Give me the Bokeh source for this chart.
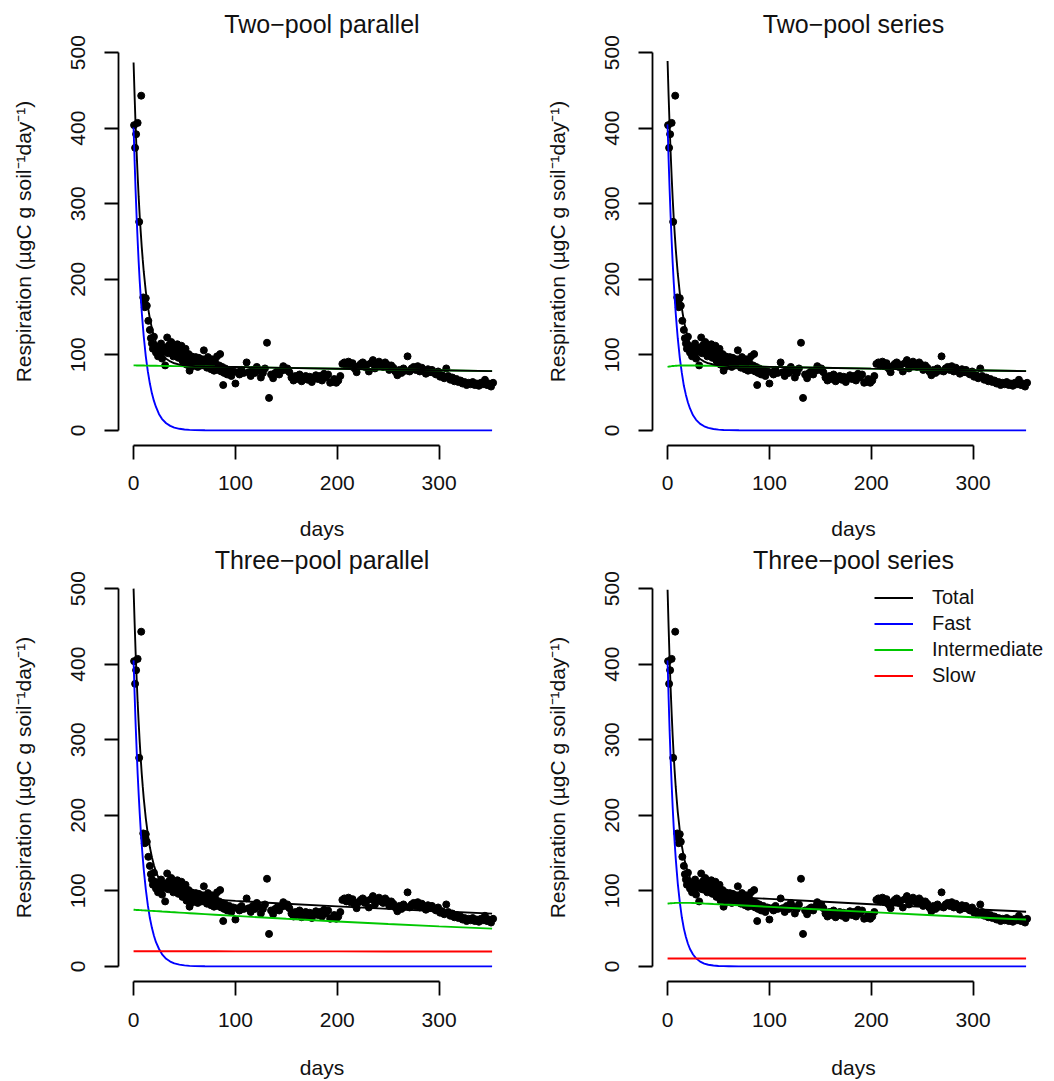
from bokeh.plotting import figure
from bokeh.models import FixedTicker, Legend, LegendItem
from bokeh.layouts import row, column
from bokeh.embed import file_html
from bokeh.resources import INLINE

FONT = "Liberation Sans"

# ---- observed respiration (same data in all four panels) ----
obs_days = [0.5, 1.5, 2.5, 4, 5.5, 7.5, 9.5, 10.5, 11, 12,
            13, 14.5, 16, 17, 18, 19, 20, 21, 22, 23,
            24, 25, 26, 27, 28, 29, 30, 31, 32, 33,
            34, 35, 36, 37, 38, 39, 40, 41, 42, 43,
            44, 45, 46, 47, 48, 49, 50, 51, 52, 53,
            54, 55, 56, 57, 58, 59, 60, 61, 62, 63,
            64, 65, 66, 67, 68, 69, 70, 71, 72, 73,
            74, 75, 76, 77, 78, 79, 80, 81, 82, 83,
            84, 85, 86, 87, 88, 89, 90, 92, 94, 96,
            98, 100, 102, 104, 106, 108, 111, 113, 115, 117,
            119, 121, 123, 125, 127, 129, 131, 133, 135, 137,
            139, 141, 143, 145, 147, 149, 151, 153, 155, 157,
            159, 161, 163, 165, 167, 169, 171, 173, 175, 177,
            179, 181, 183, 185, 187, 189, 191, 193, 195, 197,
            199, 201, 203, 205, 207, 209, 211, 213, 215, 217,
            219, 221, 223, 225, 227, 229, 231, 233, 235, 237,
            239, 241, 243, 245, 247, 249, 251, 253, 255, 257,
            259, 261, 263, 265, 267, 269, 271, 273, 275, 277,
            279, 281, 283, 285, 287, 289, 291, 293, 295, 297,
            299, 301, 303, 305, 307, 309, 311, 313, 315, 317,
            319, 321, 323, 325, 327, 329, 331, 333, 335, 337,
            339, 341, 343, 345, 347, 349, 351, 353]
obs_resp = [404, 374, 392, 407, 276, 443, 176, 170, 163, 175,
            165, 145, 133, 122, 115, 108, 124, 112, 103, 110,
            98, 107, 100, 115, 95, 108, 104, 86, 110, 123,
            102, 113, 106, 117, 110, 98, 112, 103, 108, 114,
            96, 110, 104, 112, 92, 100, 96, 108, 87, 94,
            101, 79, 90, 98, 85, 93, 88, 97, 90, 84,
            96, 89, 92, 86, 94, 106, 88, 92, 83, 97,
            86, 90, 81, 94, 87, 79, 91, 84, 98, 80,
            86, 101, 78, 84, 60, 76, 82, 74, 80, 72,
            78, 62, 77, 74, 80, 76, 90, 77, 72, 80,
            76, 84, 79, 70, 76, 82, 116, 43, 74, 69,
            76, 78, 74, 79, 85, 80, 82, 77, 70, 66,
            72, 68, 74, 65, 70, 72, 67, 71, 64, 69,
            73, 68, 72, 66, 75, 70, 74, 63, 64, 68,
            63, 66, 72, 88, 90, 86, 91, 85, 89, 82,
            77, 85, 88, 90, 84, 87, 78, 89, 93, 82,
            88, 91, 86, 84, 90, 87, 80, 86, 83, 78,
            73, 80, 76, 82, 79, 98, 78, 82, 84, 80,
            85, 78, 83, 79, 75, 81, 77, 80, 76, 74,
            78, 71, 73, 69, 82, 72, 67, 70, 65, 68,
            64, 66, 62, 64, 60, 63, 61, 64, 60, 62,
            59, 63, 61, 67, 60, 62, 58, 63]

# ---- fitted curves ----
curve_days = [0, 1, 2, 3, 4, 5, 6, 7, 8, 9, 10,
              12, 14, 16, 18, 20, 22,
              25, 28, 32, 36, 40, 45, 50, 55, 60,
              70, 80, 100, 150, 200, 250, 300, 352]

# Two-pool parallel
tpp_total = [487, 443, 403, 368, 337, 309, 284, 263, 243, 226, 210,
             184, 164, 148, 135, 124.5, 116.5,
             107, 100.4, 94.8, 91.2, 88.8, 87.1, 86.1, 85.5, 85.1,
             84.6, 84.2, 83.8, 82.7, 81.6, 80.5, 79.5, 78.5]
tpp_fast = [401, 357, 317, 282, 251, 223, 198, 177, 157, 140, 124,
            98, 78, 62, 49, 39, 31,
            21.5, 15, 9.5, 6, 3.7, 2.1, 1.2, 0.7, 0.4,
            0.1, 0, 0, 0, 0, 0, 0, 0]
tpp_slow = [86, 86, 86, 85.9, 85.9, 85.9, 85.9, 85.8, 85.8, 85.8, 85.8,
            85.7, 85.7, 85.6, 85.6, 85.5, 85.5,
            85.4, 85.4, 85.3, 85.2, 85.1, 85.0, 84.9, 84.8, 84.7,
            84.5, 84.2, 83.8, 82.7, 81.6, 80.5, 79.5, 78.5]

# Two-pool series
tps_total = [489, 443.3, 403.6, 367.8, 336, 307.2, 282.3, 260.4, 240.5, 223.6, 207.7,
             181.8, 161.9, 144.9, 132.9, 122.9, 114.9,
             105.8, 99.8, 94.4, 91, 88.8, 87.2, 86.3, 85.7, 85.3,
             84.9, 84.6, 84.1, 82.9, 81.7, 80.6, 79.5, 78.4]
tps_fast = [405, 359, 319, 283, 251, 222, 197, 175, 155, 138, 122,
            96, 76, 59, 47, 37, 29,
            20, 14, 8.7, 5.4, 3.3, 1.8, 1.0, 0.5, 0.3,
            0.1, 0, 0, 0, 0, 0, 0, 0]
tps_slow = [84, 84.3, 84.6, 84.8, 85.0, 85.2, 85.3, 85.4, 85.5, 85.6, 85.7,
            85.8, 85.9, 85.9, 85.9, 85.9, 85.9,
            85.8, 85.8, 85.7, 85.6, 85.5, 85.4, 85.3, 85.2, 85.0,
            84.8, 84.6, 84.1, 82.9, 81.7, 80.6, 79.5, 78.4]

# Three-pool parallel
thp_total = [500, 455.9, 415.8, 381.7, 349.7, 322.6, 297.5, 275.4, 255.3, 238.2, 222.1,
             196, 174.8, 157.6, 144.5, 133.8, 125.1,
             115.9, 108.6, 102.3, 98.3, 95.6, 93.5, 92.1, 91.1, 90.4,
             89.3, 88.4, 86.7, 82.9, 79.4, 76.1, 72.9, 69.8]
thp_fast = [405, 361, 321, 287, 255, 228, 203, 181, 161, 144, 128,
            102, 81, 64, 51, 40.5, 32,
            23, 16, 10, 6.4, 4, 2.3, 1.3, 0.7, 0.4,
            0.1, 0, 0, 0, 0, 0, 0, 0]
thp_mid = [75, 74.9, 74.8, 74.7, 74.7, 74.6, 74.5, 74.4, 74.3, 74.2, 74.1,
           74.0, 73.8, 73.6, 73.5, 73.3, 73.1,
           72.9, 72.6, 72.3, 71.9, 71.6, 71.2, 70.8, 70.4, 70.0,
           69.2, 68.4, 66.8, 63.0, 59.5, 56.2, 53.0, 50.0]
thp_slow = [20, 20, 20, 20, 20, 20, 20, 20, 20, 20, 20,
            20, 20, 20, 20, 20, 20,
            20, 20, 20, 20, 20, 20, 20, 20, 20,
            20, 20, 19.9, 19.9, 19.9, 19.8, 19.8, 19.8]

# Three-pool series
ths_total = [498.5, 449.7, 405.9, 368, 335.1, 305.2, 279.3, 257.4, 237.5, 220.5, 204.5,
             179.6, 159.6, 144.6, 133.6, 124.5, 117.5,
             110.1, 104.8, 100.3, 97.4, 95.7, 94.3, 93.4, 92.7, 92.3,
             91.4, 90.7, 89.3, 85.8, 82.3, 78.9, 75.6, 72.4]
ths_fast = [405, 356, 312, 274, 241, 211, 185, 163, 143, 126, 110,
            85, 65, 50, 39, 30, 23,
            15.7, 10.6, 6.3, 3.7, 2.2, 1.2, 0.6, 0.3, 0.2,
            0, 0, 0, 0, 0, 0, 0, 0]
ths_mid = [83, 83.2, 83.4, 83.5, 83.6, 83.7, 83.8, 83.9, 84, 84, 84,
           84.1, 84.1, 84.1, 84.1, 84, 84,
           83.9, 83.7, 83.5, 83.2, 83, 82.6, 82.3, 81.9, 81.6,
           80.9, 80.2, 78.8, 75.3, 71.8, 68.4, 65.1, 62]
ths_slow = [10.5, 10.5, 10.5, 10.5, 10.5, 10.5, 10.5, 10.5, 10.5, 10.5, 10.5,
            10.5, 10.5, 10.5, 10.5, 10.5, 10.5,
            10.5, 10.5, 10.5, 10.5, 10.5, 10.5, 10.5, 10.5, 10.5,
            10.5, 10.5, 10.5, 10.5, 10.4, 10.4, 10.4, 10.4]

titles = ["Two\u2212pool parallel", "Two\u2212pool series",
          "Three\u2212pool parallel", "Three\u2212pool series"]
legend_labels = ["Total", "Fast", "Intermediate", "Slow"]
x_ticks = [0, 100, 200, 300]
y_ticks = [0, 100, 200, 300, 400, 500]
x_label = "days"
y_label = "Respiration (\u00b5gC g soil\u207b\u00b9day\u207b\u00b9)"

BLACK, BLUE, GREEN, RED = "#000000", "#0000FF", "#00C800", "#FF0000"
LW = 1.9


def panel(title, total, fast, mid, slow, width, mb_left, mb_right, height,
          mb_top, mb_bottom, x_end, tick_standoff, days_standoff, title_offset,
          legend=False):
    p = figure(width=width, height=height, x_range=(-14.8, x_end), y_range=(-20, 520),
               output_backend="svg", toolbar_location=None,
               min_border_left=mb_left, min_border_right=mb_right,
               min_border_top=mb_top, min_border_bottom=mb_bottom)
    p.outline_line_color = None
    p.grid.visible = False
    p.background_fill_color = "white"
    p.border_fill_color = "white"

    p.title.text = title
    p.title.align = "center"
    p.title.text_font = FONT
    p.title.text_font_size = "25px"
    p.title.text_font_style = "normal"
    p.title.text_color = "#111111"
    p.title.standoff = 0
    p.title.offset = title_offset

    for ax in (p.xaxis[0], p.yaxis[0]):
        ax.axis_line_width = 1.8
        ax.axis_line_color = "black"
        ax.major_tick_line_width = 1.8
        ax.major_tick_line_color = "black"
        ax.major_tick_out = 14
        ax.major_tick_in = 0
        ax.minor_tick_out = 0
        ax.minor_tick_in = 0
        ax.major_label_text_font = FONT
        ax.major_label_text_font_size = "21px"
        ax.major_label_text_color = "#111111"
        ax.axis_label_text_font = FONT
        ax.axis_label_text_font_size = "21px"
        ax.axis_label_text_font_style = "normal"
        ax.axis_label_text_color = "#111111"

    p.xaxis.ticker = FixedTicker(ticks=x_ticks)
    p.xaxis.bounds = (x_ticks[0], x_ticks[-1])
    p.xaxis.major_label_standoff = tick_standoff
    p.xaxis.axis_label = x_label
    p.xaxis.axis_label_standoff = days_standoff

    p.yaxis.ticker = FixedTicker(ticks=y_ticks)
    p.yaxis.bounds = (y_ticks[0], y_ticks[-1])
    p.yaxis.major_label_orientation = "vertical"
    p.yaxis.major_label_standoff = 19
    p.yaxis.axis_label = y_label
    p.yaxis.axis_label_standoff = 34

    p.scatter(obs_days, obs_resp, marker="circle", size=7,
              fill_color="black", line_color="black")

    r_fast = p.line(curve_days, fast, line_color=BLUE, line_width=LW)
    r_mid = p.line(curve_days, mid, line_color=GREEN, line_width=LW)
    r_slow = None
    if slow is not None:
        r_slow = p.line(curve_days, slow, line_color=RED, line_width=LW)
    r_total = p.line(curve_days, total, line_color=BLACK, line_width=LW)

    if legend:
        items = [LegendItem(label=legend_labels[0], renderers=[r_total]),
                 LegendItem(label=legend_labels[1], renderers=[r_fast]),
                 LegendItem(label=legend_labels[2], renderers=[r_mid]),
                 LegendItem(label=legend_labels[3], renderers=[r_slow])]
        leg = Legend(items=items, location=(222, 294),
                     label_text_font=FONT, label_text_font_size="20px",
                     label_text_color="#111111",
                     glyph_width=39, glyph_height=23, label_height=23,
                     label_standoff=19, spacing=3, padding=2, margin=0,
                     border_line_color=None, background_fill_alpha=0)
        p.add_layout(leg)
    return p


# top row: height 542 (frame 37..445); bottom row: height 539 (frame 573..981)
p1 = panel(titles[0], tpp_total, tpp_fast, tpp_slow, None,
           542, 118, 17, 542, 37, 97, 384.8, 16, 24, 0)
p2 = panel(titles[1], tps_total, tps_fast, tps_slow, None,
           512, 110, 0, 542, 37, 97, 379.9, 16, 24, 4)
p3 = panel(titles[2], thp_total, thp_fast, thp_mid, thp_slow,
           542, 118, 17, 539, 31, 100, 384.8, 17, 26, 0)
p4 = panel(titles[3], ths_total, ths_fast, ths_mid, ths_slow,
           512, 110, 0, 539, 31, 100, 379.9, 17, 26, 4, legend=True)

layout = column(row(p1, p2), row(p3, p4))

open("out.html", "w").write(file_html(layout, INLINE))
